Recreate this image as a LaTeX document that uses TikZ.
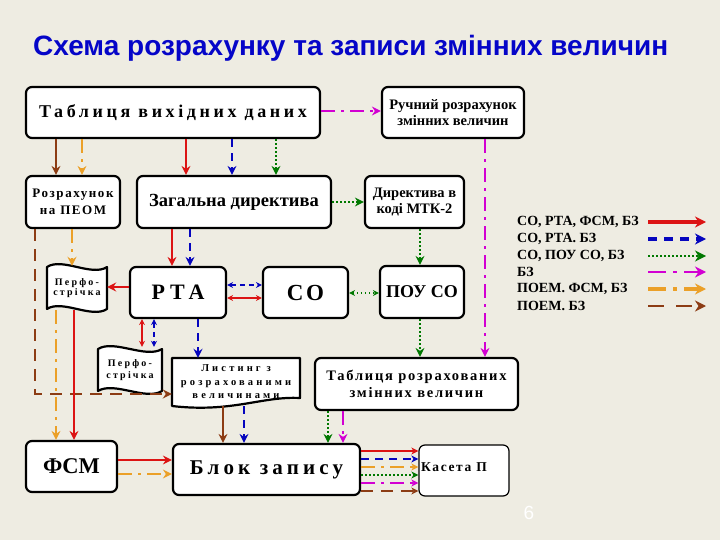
\documentclass[tikz,border=0pt]{standalone}
\usepackage{fontspec}
\setmainfont{Liberation Serif}
\newfontfamily\titlefont{Liberation Sans}
\newfontfamily\lsA[LetterSpace=20]{Liberation Serif}
\newfontfamily\lsB[LetterSpace=12]{Liberation Serif}
\newfontfamily\lsC[LetterSpace=22]{Liberation Serif}
\newfontfamily\lsD[LetterSpace=30]{Liberation Serif}
\usetikzlibrary{arrows.meta}
\definecolor{bg}{RGB}{238,236,226}
\definecolor{titleblue}{RGB}{5,5,200}
\definecolor{myred}{RGB}{220,20,20}
\definecolor{myblue}{RGB}{5,5,190}
\definecolor{mygreen}{RGB}{0,120,0}
\definecolor{mymag}{RGB}{210,0,210}
\definecolor{myorange}{RGB}{235,160,40}
\definecolor{mybrown}{RGB}{140,60,20}
\tikzset{
  box/.style={draw=black,line width=2.2pt,rounded corners=6pt,fill=white,inner sep=0pt,align=center},
  shapeline/.style={draw=black,line width=2.2pt,fill=white,line join=round},
  plain/.style={inner sep=0pt,align=center},
  tipA/.style={-{Stealth[length=9pt,width=9pt,inset=3pt]}},
  tipD/.style={{Stealth[length=6pt,width=6pt,inset=2pt]}-{Stealth[length=6pt,width=6pt,inset=2pt]}},
  tipK/.style={-{Stealth[length=7pt,width=7pt,inset=2pt]}},
  tipL/.style={-{Stealth[length=11pt,width=11pt,inset=3.5pt]}},
  lred/.style={draw=myred,line width=2.4pt},
  lblue/.style={draw=myblue,line width=2.6pt,dash pattern=on 8pt off 6pt},
  lgreen/.style={draw=mygreen,line width=1.4pt,dash pattern=on 1.5pt off 2.5pt},
  lmag/.style={draw=mymag,line width=2.4pt,dash pattern=on 14pt off 6pt on 3pt off 6pt},
  lorg/.style={draw=myorange,line width=2pt,dash pattern=on 14pt off 6pt on 3pt off 6pt},
  lbrn/.style={draw=mybrown,line width=2.4pt,dash pattern=on 12pt off 8pt},
  lbrnsolid/.style={draw=mybrown,line width=2.6pt},
  legtext/.style={anchor=west,inner sep=0pt,font=\bfseries\fontsize{14}{14}\selectfont}
}
\begin{document}
\begin{tikzpicture}[x=1pt,y=-1pt]
\fill[bg] (0,0) rectangle (720,540);
\useasboundingbox (0,0) rectangle (720,540);

% title
\node[anchor=base west,inner sep=0pt,text=titleblue,font=\titlefont\bfseries\fontsize{28}{30}\selectfont] (title) at (33,56) {Схема розрахунку та записи змінних величин};

% boxes
\node[box,minimum width=294pt,minimum height=51pt,font={\lsA\bfseries\fontsize{18}{20}\selectfont}] (tvd) at (173,112.5) {Таблиця вихідних даних};
\node[box,minimum width=142pt,minimum height=51pt,font={\bfseries\fontsize{14.5}{16}\selectfont}] (ruch) at (453,112.5) {Ручний розрахунок\\змінних величин};
\node[box,minimum width=94pt,minimum height=52pt,font={\lsB\bfseries\fontsize{13}{17}\selectfont}] (rpeom) at (73,202) {Розрахунок\\на ПЕОМ};
\node[box,minimum width=194pt,minimum height=52pt,font={\bfseries\fontsize{18.5}{20}\selectfont}] (zd) at (234,202) {Загальна директива};
\node[box,minimum width=99pt,minimum height=52pt,font={\bfseries\fontsize{14.5}{15.5}\selectfont}] (dmtk) at (414.5,202) {Директива в\\коді МТК-2};
\node[box,minimum width=96pt,minimum height=51pt,font={\lsC\bfseries\fontsize{22}{24}\selectfont}] (rta) at (178,292.5) {РТА};
\node[box,minimum width=85pt,minimum height=51pt,font={\lsB\bfseries\fontsize{23}{24}\selectfont}] (co) at (305.5,292.5) {СО};
\node[box,minimum width=84pt,minimum height=52pt,font={\bfseries\fontsize{18}{20}\selectfont}] (pou) at (422,292) {ПОУ СО};
\node[box,minimum width=203pt,minimum height=52pt,font={\lsB\bfseries\fontsize{14.5}{17}\selectfont}] (trz) at (416.5,384) {Таблиця розрахованих\\змінних величин};
\node[box,minimum width=91pt,minimum height=51pt,font={\bfseries\fontsize{22.5}{24}\selectfont}] (fsm) at (71.5,466.5) {ФСМ};
\node[box,minimum width=187pt,minimum height=51pt,font={\lsA\bfseries\fontsize{21}{23}\selectfont}] (bz) at (266.5,469.5) {Блок запису};
\node[box,line width=1.2pt,minimum width=90pt,minimum height=51pt] (kas) at (464,470.5) {};
\node[anchor=west,inner sep=0pt,font={\lsB\bfseries\fontsize{13.5}{14}\selectfont}] (kast) at (421,467) {Касета П};

% punched tapes
\draw[shapeline] (47,267) .. controls (62,257) and (92,277) .. (107,267) -- (107,309) .. controls (92,319) and (62,299) .. (47,309) -- cycle;
\node[plain,minimum width=60pt,minimum height=44pt,font={\lsC\bfseries\fontsize{10}{10.5}\selectfont}] (tape1) at (77,288) {Перфо-\\стрічка};
\draw[shapeline] (98,349) .. controls (114,339) and (146,359) .. (162,349) -- (162,391) .. controls (146,401) and (114,381) .. (98,391) -- cycle;
\node[plain,minimum width=64pt,minimum height=46pt,font={\lsC\bfseries\fontsize{10}{11.5}\selectfont}] (tape2) at (130,370) {Перфо-\\стрічка};

% listing (document shape)
\draw[shapeline] (172,358) -- (300,358) -- (300,398) .. controls (262,396) and (232,413) .. (172,406) -- cycle;
\node[plain,minimum width=128pt,minimum height=48pt,font={\lsD\bfseries\fontsize{10.5}{13.5}\selectfont}] (list) at (236,382) {Листинг з\\розрахованими\\величинами};

% connectors
\draw[lmag,tipA] (tvd.east |- 0,111) -- (ruch.west |- 0,111);
\draw[lmag,tipA] (ruch.south -| 485,0) -- (trz.north -| 485,0);
\draw[lbrnsolid,tipA] (tvd.south -| 56,0) -- (rpeom.north -| 56,0);
\draw[lorg,tipA] (tvd.south -| 82,0) -- (rpeom.north -| 82,0);
\draw[lred,tipA] (tvd.south -| 186,0) -- (zd.north -| 186,0);
\draw[lblue,tipA] (tvd.south -| 232,0) -- (zd.north -| 232,0);
\draw[lgreen,tipA] (tvd.south -| 276,0) -- (zd.north -| 276,0);
\draw[lgreen,tipA] (zd.east |- 0,202) -- (dmtk.west |- 0,202);
\draw[lgreen,tipA] (dmtk.south -| 420,0) -- (pou.north -| 420,0);
\draw[lred,tipA] (zd.south -| 172,0) -- (rta.north -| 172,0);
\draw[lblue,tipA] (zd.south -| 190,0) -- (rta.north -| 190,0);
\draw[lorg,tipA] (rpeom.south -| 72,0) -- (tape1.north -| 72,0);
\draw[lbrn,tipA] (rpeom.south -| 35,0) |- (list.west |- 0,394);
\draw[lred,tipA] (rta.west |- 0,287) -- (tape1.east |- 0,287);
\draw[lorg,tipA] (tape1.south -| 56,0) -- (fsm.north -| 56,0);
\draw[lred,tipA] (tape1.south -| 74,0) -- (fsm.north -| 74,0);
\draw[lred,line width=2pt,tipD] (rta.south -| 142,0) -- (tape2.north -| 142,0);
\draw[lblue,line width=2pt,dash pattern=on 5pt off 4pt,tipD] (rta.south -| 154,0) -- (tape2.north -| 154,0);
\draw[lblue,tipA] (rta.south -| 198,0) -- (list.north -| 198,0);
\draw[lblue,line width=2pt,dash pattern=on 5pt off 4pt,tipD] (rta.east |- 0,285) -- (co.west |- 0,285);
\draw[lred,line width=2pt,tipD] (rta.east |- 0,298) -- (co.west |- 0,298);
\draw[lgreen,tipD] (co.east |- 0,293) -- (pou.west |- 0,293);
\draw[lgreen,tipA] (pou.south -| 420,0) -- (trz.north -| 420,0);
\draw[lbrnsolid,tipA] (list.south -| 223,0) -- (bz.north -| 223,0);
\draw[lblue,tipA] (list.south -| 244,0) -- (bz.north -| 244,0);
\draw[lgreen,tipA] (trz.south -| 328,0) -- (bz.north -| 328,0);
\draw[lmag,tipA] (trz.south -| 343,0) -- (bz.north -| 343,0);
\draw[lred,tipA] (fsm.east |- 0,460) -- (bz.west |- 0,460);
\draw[lorg,tipA] (fsm.east |- 0,474) -- (bz.west |- 0,474);
\draw[lred,line width=2pt,tipK] (bz.east |- 0,451) -- (kas.west |- 0,451);
\draw[lblue,line width=2pt,tipK] (bz.east |- 0,459) -- (kas.west |- 0,459);
\draw[lorg,tipK] (bz.east |- 0,467) -- (kas.west |- 0,467);
\draw[lgreen,tipK] (bz.east |- 0,475) -- (kas.west |- 0,475);
\draw[lmag,line width=2pt,tipK] (bz.east |- 0,483) -- (kas.west |- 0,483);
\draw[lbrn,line width=2pt,tipK] (bz.east |- 0,491) -- (kas.west |- 0,491);

% legend
\node[legtext] (g1) at (517,222) {СО, РТА, ФСМ, БЗ};
\node[legtext] (g2) at (517,239) {СО, РТА.  БЗ};
\node[legtext] (g3) at (517,256) {СО, ПОУ СО, БЗ};
\node[legtext] (g4) at (517,272) {БЗ};
\node[legtext] (g5) at (517,289) {ПОЕМ. ФСМ, БЗ};
\node[legtext] (g6) at (517,306) {ПОЕМ. БЗ};
\foreach \i/\y in {1/222,2/239,3/256,4/272,5/289,6/306}{
  \coordinate (la\i) at (648,\y);
  \coordinate (lb\i) at (706,\y);
}
\draw[lred,line width=3.4pt,tipL] (la1) -- (lb1);
\draw[lblue,line width=3.4pt,dash pattern=on 9pt off 7pt,tipL] (la2) -- (lb2);
\draw[lgreen,line width=1.6pt,tipL] (la3) -- (lb3);
\draw[lmag,line width=2.8pt,dash pattern=on 18pt off 7pt on 4pt off 7pt,tipL] (la4) -- (lb4);
\draw[lorg,line width=3.4pt,dash pattern=on 18pt off 7pt on 4pt off 7pt,tipL] (la5) -- (lb5);
\draw[lbrn,line width=2.8pt,dash pattern=on 16pt off 12pt,tipL] (la6) -- (lb6);

\node[text=white,inner sep=0pt,font=\titlefont\fontsize{19}{19}\selectfont] (pg) at (529,513) {6};
\end{tikzpicture}
\end{document}
